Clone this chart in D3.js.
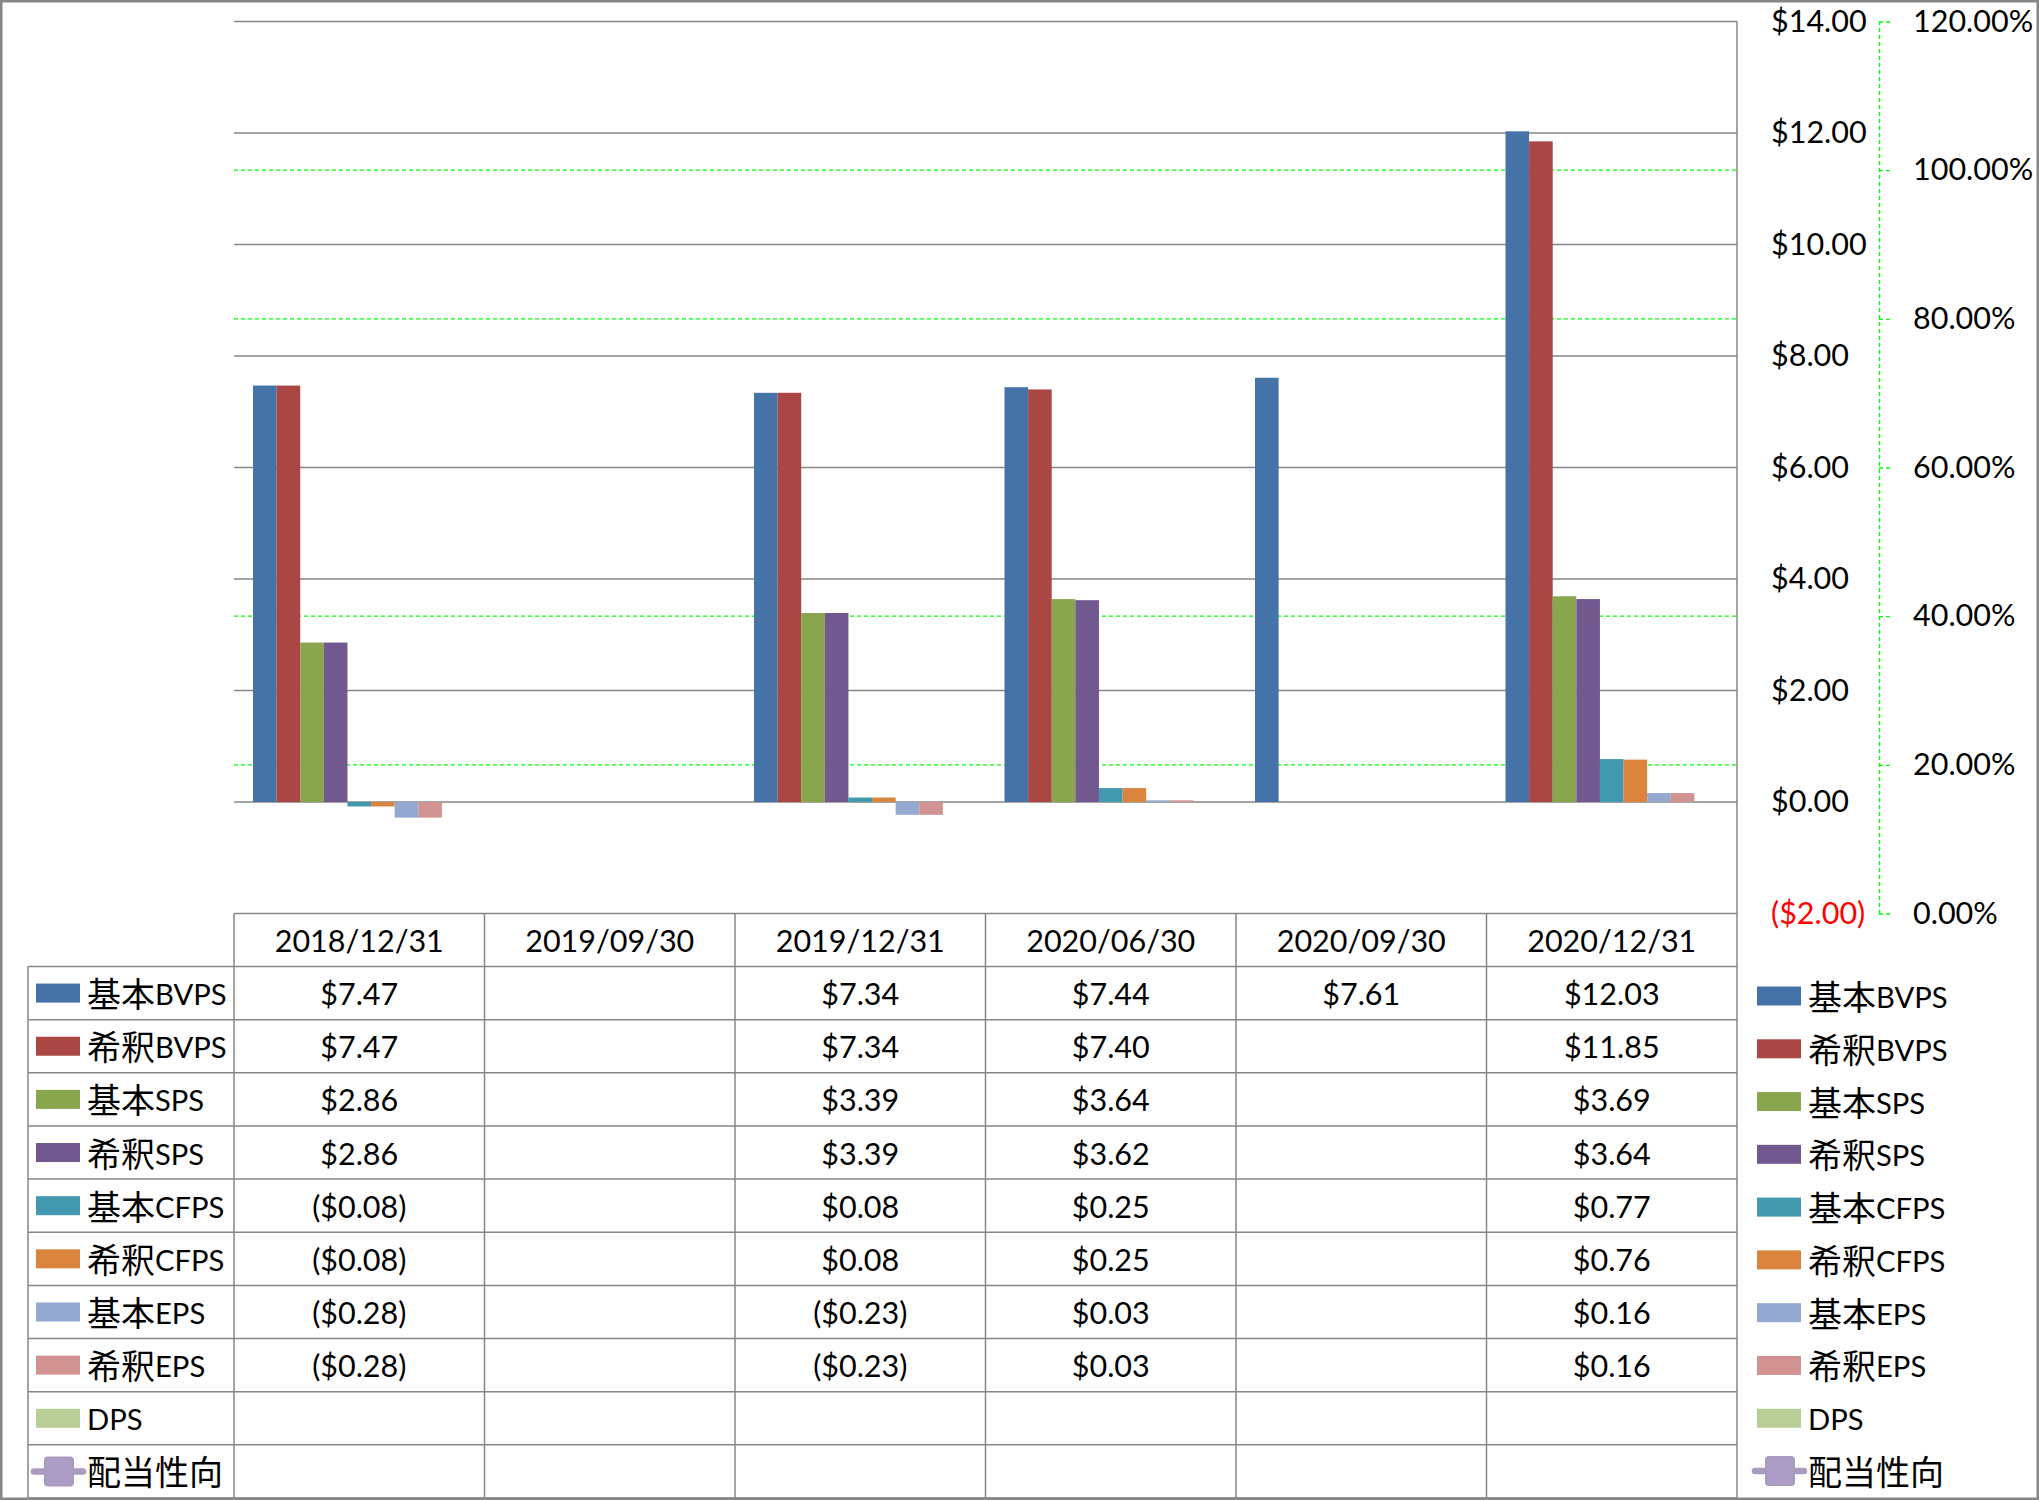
<!DOCTYPE html>
<html>
<head>
<meta charset="utf-8">
<script src="https://cdn.jsdelivr.net/npm/d3@7"></script>
<style>
  html, body { margin: 0; padding: 0; background: #fff; }
  svg text { font-family: Lato, "Noto Sans CJK JP", sans-serif; }
</style>
</head>
<body>
<svg id="chart" width="2039" height="1500"></svg>
<script>
// ---------- data ----------
const categories = ["2018/12/31", "2019/09/30", "2019/12/31", "2020/06/30", "2020/09/30", "2020/12/31"];
const seriesNames = ["基本BVPS", "希釈BVPS", "基本SPS", "希釈SPS", "基本CFPS", "希釈CFPS", "基本EPS", "希釈EPS", "DPS", "配当性向"];
const seriesColors = ["#4572A7", "#AA4643", "#89A54E", "#71588F", "#4198AF", "#DB843D", "#93A9CF", "#D19392", "#B9CD96", "#A99BBD"];
const basicBVPS   = [7.47, null, 7.34, 7.44, 7.61, 12.03];
const dilutedBVPS = [7.47, null, 7.34, 7.40, null, 11.85];
const basicSPS    = [2.86, null, 3.39, 3.64, null, 3.69];
const dilutedSPS  = [2.86, null, 3.39, 3.62, null, 3.64];
const basicCFPS   = [-0.08, null, 0.08, 0.25, null, 0.77];
const dilutedCFPS = [-0.08, null, 0.08, 0.25, null, 0.76];
const basicEPS    = [-0.28, null, -0.23, 0.03, null, 0.16];
const dilutedEPS  = [-0.28, null, -0.23, 0.03, null, 0.16];
const dps         = [null, null, null, null, null, null];
const payoutRatio = [null, null, null, null, null, null];
const leftTicks  = [-2, 0, 2, 4, 6, 8, 10, 12, 14];
const rightTicks = [0, 0.2, 0.4, 0.6, 0.8, 1.0, 1.2];

const barSeries = [basicBVPS, dilutedBVPS, basicSPS, dilutedSPS, basicCFPS, dilutedCFPS, basicEPS, dilutedEPS, dps];
const allSeries = barSeries.concat([payoutRatio]);

// ---------- layout ----------
const svg = d3.select("#chart");
const plotL = 234, plotR = 1737, plotT = 21.5, plotB = 913.5;
const tableL = 28, headerB = 966.5, tableB = 1498;
const gray = "#868686", green = "#00FF00";
const FS = 30.5, FS_CJK = 34, FS_LEG = 29.2;

const x0 = d3.scaleBand().domain(categories).range([plotL, plotR]).padding(0);
const x1 = d3.scaleBand().domain(d3.range(barSeries.length)).range([19, x0.bandwidth() - 19]).padding(0);
const y = d3.scaleLinear().domain([-2, 14]).range([plotB, plotT]);
const y2 = d3.scaleLinear().domain([0, 1.2]).range([plotB, plotT]);
const rowY = d3.scaleBand().domain(d3.range(allSeries.length)).range([headerB, tableB]);

const money = v => v < 0 ? "($" + d3.format(".2f")(-v) + ")" : "$" + d3.format(".2f")(v);
const pct = d3.format(".2%");

// frame
svg.append("rect").attr("x", 1.25).attr("y", 1.25).attr("width", 2039 - 2.5).attr("height", 1500 - 2.5)
  .attr("fill", "none").attr("stroke", gray).attr("stroke-width", 2.5);

// secondary (green dashed) gridlines, skipping those hidden under primary gridlines
const primaryYs = leftTicks.map(t => y(t));
svg.append("g").selectAll("line")
  .data(rightTicks.filter(t => !primaryYs.some(py => Math.abs(py - y2(t)) < 2)))
  .join("line")
  .attr("x1", plotL).attr("x2", plotR).attr("y1", d => y2(d)).attr("y2", d => y2(d))
  .attr("stroke", green).attr("stroke-width", 1.4).attr("stroke-dasharray", "4,3");

// primary gray gridlines
svg.append("g").selectAll("line").data(leftTicks).join("line")
  .attr("x1", plotL).attr("x2", plotR).attr("y1", d => y(d)).attr("y2", d => y(d))
  .attr("stroke", gray).attr("stroke-width", 1.5);

// bars
const groups = svg.append("g").selectAll("g").data(barSeries).join("g")
  .attr("fill", (d, i) => seriesColors[i]);
groups.each(function(vals, si) {
  d3.select(this).selectAll("rect")
    .data(vals.map((v, ci) => ({v, c: categories[ci]})).filter(d => d.v !== null))
    .join("rect")
    .attr("x", d => x0(d.c) + x1(si))
    .attr("width", x1.bandwidth())
    .attr("y", d => Math.min(y(d.v), y(0)))
    .attr("height", d => Math.abs(y(d.v) - y(0)));
});

// table lines
const tl = svg.append("g").attr("stroke", gray).attr("stroke-width", 1.5);
d3.range(allSeries.length + 1).forEach(i => {
  const yy = i < allSeries.length ? rowY(i) : tableB;
  tl.append("line").attr("x1", tableL).attr("x2", plotR).attr("y1", yy).attr("y2", yy);
});
tl.append("line").attr("x1", tableL).attr("x2", tableL).attr("y1", headerB).attr("y2", tableB);
categories.forEach(c => {
  tl.append("line").attr("x1", x0(c)).attr("x2", x0(c)).attr("y1", plotB).attr("y2", tableB);
});
tl.append("line").attr("x1", plotR).attr("x2", plotR).attr("y1", plotT).attr("y2", tableB);

// header labels
svg.append("g").selectAll("text").data(categories).join("text")
  .attr("x", d => x0(d) + x0.bandwidth() / 2).attr("y", (plotB + headerB) / 2)
  .attr("text-anchor", "middle").attr("dominant-baseline", "central")
  .attr("font-size", FS).attr("fill", "#000").text(d => d);

// table values
allSeries.forEach((vals, si) => {
  svg.append("g").selectAll("text")
    .data(vals.map((v, ci) => ({v, c: categories[ci]})).filter(d => d.v !== null))
    .join("text")
    .attr("x", d => x0(d.c) + x0.bandwidth() / 2)
    .attr("y", rowY(si) + rowY.bandwidth() / 2)
    .attr("text-anchor", "middle").attr("dominant-baseline", "central")
    .attr("font-size", FS).attr("fill", "#000").text(d => money(d.v));
});

// legend key helper
function drawKey(g, i, kx, cy) {
  if (i < barSeries.length) {
    g.append("rect").attr("x", kx).attr("y", cy - 9.5).attr("width", 44).attr("height", 19)
      .attr("fill", seriesColors[i]);
  } else {
    g.append("line").attr("x1", kx - 2).attr("x2", kx + 47).attr("y1", cy).attr("y2", cy)
      .attr("stroke", seriesColors[i]).attr("stroke-width", 6.5).attr("stroke-linecap", "round");
    g.append("rect").attr("x", kx + 9).attr("y", cy - 14).attr("width", 28).attr("height", 28)
      .attr("rx", 3).attr("fill", "#AB9DC5").attr("stroke", seriesColors[i]).attr("stroke-width", 2);
  }
}

// label with larger CJK glyphs (matching the reference's mixed font)
function labelText(g, x, cy, name) {
  const t = g.append("text").attr("x", x).attr("y", cy).attr("dominant-baseline", "central")
    .attr("fill", "#000");
  const parts = name.match(/[\u3000-\u9fff]+|[^\u3000-\u9fff]+/g);
  parts.forEach(p => {
    const cjk = /[\u3000-\u9fff]/.test(p);
    t.append("tspan").attr("font-size", cjk ? FS_CJK : FS_LEG).attr("dominant-baseline", "central").text(p);
  });
}

// legend inside table
seriesNames.forEach((name, i) => {
  const cy = rowY(i) + rowY.bandwidth() / 2;
  const g = svg.append("g");
  drawKey(g, i, 36, cy);
  labelText(g, 87, cy, name);
});

// right legend
const legY = d3.scalePoint().domain(d3.range(seriesNames.length)).range([996, 1471]);
seriesNames.forEach((name, i) => {
  const cy = legY(i);
  const g = svg.append("g");
  drawKey(g, i, 1757, cy);
  labelText(g, 1808, cy, name);
});

// primary axis (right side labels)
const axL = svg.append("g").attr("transform", `translate(${plotR},0)`)
  .call(d3.axisRight(y).tickValues(leftTicks).tickSize(0).tickPadding(34).tickFormat(money));
axL.select(".domain").remove();
axL.selectAll("text").attr("font-size", FS).attr("font-family", null)
  .attr("fill", d => d < 0 ? "#FF0000" : "#000");

// secondary axis
const axR = svg.append("g").attr("transform", "translate(1879,0)")
  .call(d3.axisRight(y2).tickValues(rightTicks).tickSizeInner(12).tickSizeOuter(0).tickPadding(22).tickFormat(pct));
axR.select(".domain").attr("stroke", green).attr("stroke-width", 1.4).attr("stroke-dasharray", "4,3");
axR.selectAll(".tick line").attr("stroke", green).attr("stroke-width", 1.4).attr("stroke-dasharray", "4,3");
axR.selectAll("text").attr("font-size", FS).attr("font-family", null).attr("fill", "#000");
</script>
</body>
</html>
